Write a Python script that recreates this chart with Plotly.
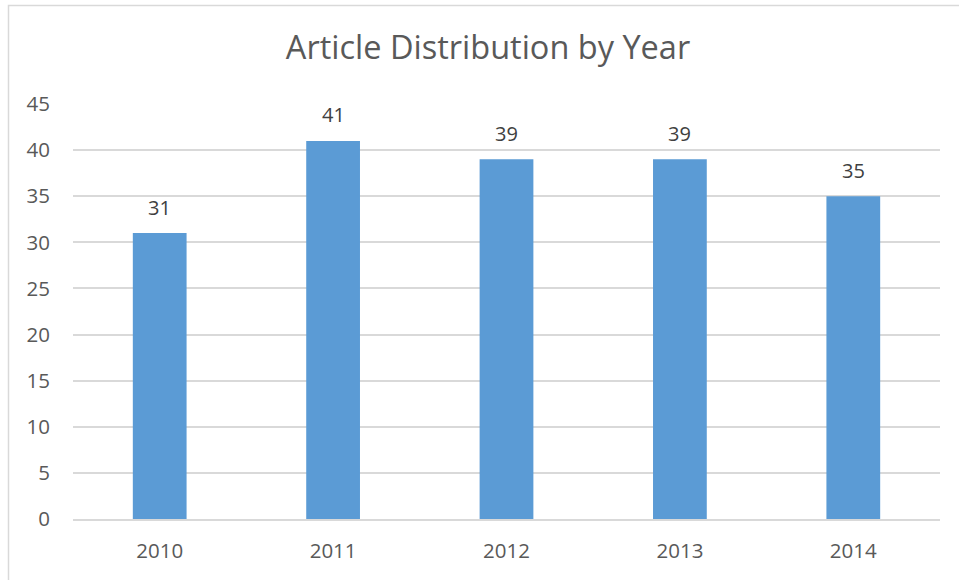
import plotly.graph_objects as go

years = ["2010", "2011", "2012", "2013", "2014"]
articles = [31, 41, 39, 39, 35]
y_ticks = [0, 5, 10, 15, 20, 25, 30, 35, 40, 45]

L, R, T, B = 73, 19, 104, 61
W, H = 959, 580
pw, ph = W - L - R, H - T - B

def px_x(p):
    return (p - L) / pw

def px_y(p):
    return (H - B - p) / ph

fig = go.Figure(go.Bar(
    x=years, y=articles,
    marker=dict(color="#5B9BD5", line=dict(width=0)),
    width=0.31,
    hoverinfo="x+y",
))

for i, v in enumerate(articles):
    fig.add_annotation(x=i, y=v, xref="x", yref="y", text=str(v), showarrow=False,
                       yanchor="middle", yshift=26,
                       font=dict(family="Open Sans", size=20, color="#404040"))

fig.update_layout(
    width=W, height=H,
    margin=dict(l=L, r=R, t=T, b=B),
    paper_bgcolor="white", plot_bgcolor="white",
    showlegend=False,
    title=dict(text="Article Distribution by Year", x=px_x(488), xref="paper", xanchor="center",
               y=1 - 48 / H, yanchor="middle", yref="container",
               font=dict(family="Open Sans", size=32.5, color="#595959")),
    font=dict(family="Open Sans", color="#595959"),
    xaxis=dict(type="category", range=[-0.5, 4.5], showgrid=False, showline=True,
               linecolor="#D9D9D9", linewidth=1.5,
               ticks="", tickfont=dict(size=20.5, color="#595959"), ticklabelstandoff=13),
    yaxis=dict(range=[0, 45], tickvals=y_ticks, showgrid=True, gridcolor="#D9D9D9", gridwidth=1.5,
               zeroline=False, showline=False, ticks="",
               tickfont=dict(size=20.5, color="#595959"), ticklabelstandoff=22),
    shapes=[dict(type="rect", xref="paper", yref="paper",
                 x0=px_x(8.5), x1=px_x(975), y0=px_y(600), y1=px_y(5.5),
                 line=dict(color="#D9D9D9", width=1.5), fillcolor="rgba(0,0,0,0)", layer="below")],
)

fig.write_html("out.html", config={"displayModeBar": False},
               post_script="document.body.style.margin='0';document.body.style.overflow='hidden';")
